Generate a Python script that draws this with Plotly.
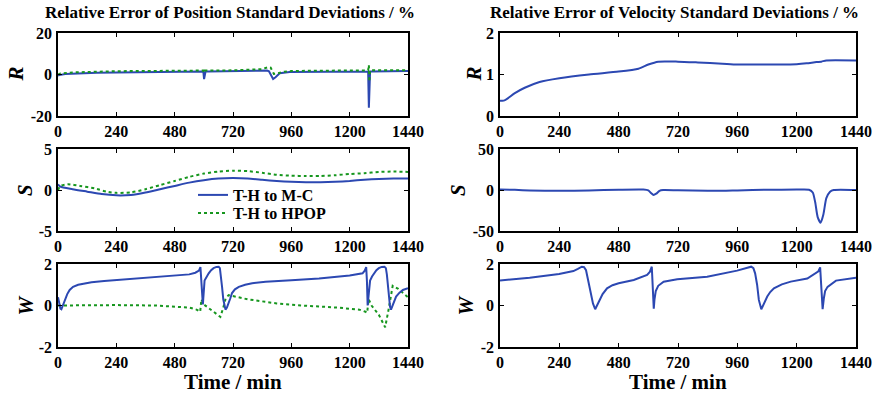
import plotly.graph_objects as go

# ---------------- data ----------------
# Position R
pos_R_mc_t = [0, 5, 30, 80, 160, 240, 360, 480, 560, 598, 601, 604, 607, 620, 720, 840, 860, 868, 878, 885, 895, 912, 953, 1080, 1200, 1276, 1279, 1281, 1284, 1290, 1320, 1440]
pos_R_mc_v = [-0.5, -0.3, 0.2, 0.5, 0.8, 1.0, 1.2, 1.3, 1.4, 1.4, -2.2, -1.0, 1.4, 1.4, 1.5, 1.6, 1.9, 1.5, -1.0, -2.2, -1.3, 0.6, 1.2, 1.3, 1.4, 1.5, -16.0, -8.0, 1.5, 1.5, 1.6, 1.7]
pos_R_hp_t = [0, 10, 60, 240, 480, 598, 601, 604, 620, 720, 840, 866, 875, 888, 900, 930, 960, 1200, 1276, 1279, 1281, 1284, 1320, 1440]
pos_R_hp_v = [0.0, 0.5, 1.0, 1.6, 1.8, 1.9, 0.8, 1.9, 1.9, 2.0, 2.6, 3.6, 3.3, 0.3, 0.5, 1.3, 1.7, 2.0, 2.0, 4.6, -3.5, 2.0, 2.1, 2.1]

# Position S
pos_S_mc_t = [0, 10, 60, 120, 180, 240, 300, 360, 420, 480, 540, 600, 660, 720, 780, 840, 900, 960, 1020, 1080, 1140, 1200, 1260, 1320, 1380, 1440]
pos_S_mc_v = [0.7, 0.4, 0.1, -0.2, -0.5, -0.65, -0.6, -0.3, 0.1, 0.5, 0.9, 1.2, 1.4, 1.45, 1.4, 1.25, 1.1, 1.0, 0.95, 0.95, 1.0, 1.1, 1.25, 1.35, 1.4, 1.4]
pos_S_hp_t = [0, 10, 40, 90, 150, 200, 240, 300, 360, 420, 480, 540, 600, 660, 720, 780, 840, 900, 960, 1020, 1080, 1140, 1200, 1260, 1320, 1380, 1440]
pos_S_hp_v = [0.0, 0.5, 0.7, 0.5, 0.2, -0.2, -0.35, -0.3, 0.1, 0.6, 1.1, 1.6, 2.0, 2.25, 2.35, 2.3, 2.1, 1.85, 1.75, 1.7, 1.7, 1.8, 1.95, 2.05, 2.2, 2.25, 2.2]

# Position W
pos_W_mc_t = [0, 4, 10, 14, 20, 27, 38, 48, 62, 83, 110, 138, 190, 234, 300, 360, 420, 482, 540, 565, 580, 586, 589, 592, 596, 603, 612, 620, 630, 640, 652, 661, 666, 670, 675, 680, 685, 689, 695, 702, 709, 716, 728, 744, 770, 799, 854, 960, 1074, 1200, 1253, 1262, 1268, 1271, 1274, 1278, 1284, 1292, 1300, 1310, 1320, 1332, 1343, 1349, 1353, 1357, 1361, 1366, 1370, 1380, 1391, 1405, 1419, 1440]
pos_W_mc_v = [0.4, 0.1, -0.15, -0.18, 0.0, 0.27, 0.55, 0.75, 0.9, 1.0, 1.07, 1.12, 1.18, 1.22, 1.27, 1.32, 1.37, 1.42, 1.5, 1.58, 1.68, 1.85, 1.2, 0.3, 0.05, 1.2, 1.4, 1.55, 1.7, 1.8, 1.86, 1.87, 1.8, 1.5, 0.9, 0.3, -0.05, -0.2, -0.1, 0.1, 0.35, 0.6, 0.78, 0.9, 1.0, 1.07, 1.15, 1.22, 1.3, 1.45, 1.55, 1.68, 1.85, 1.2, 0.0, 0.5, 1.2, 1.4, 1.55, 1.7, 1.8, 1.86, 1.87, 1.8, 1.5, 0.9, 0.3, -0.05, -0.2, 0.1, 0.43, 0.62, 0.75, 0.83]
pos_W_hp_t = [0, 100, 240, 400, 500, 540, 570, 585, 590, 600, 640, 668, 680, 690, 702, 740, 780, 900, 1000, 1150, 1240, 1265, 1272, 1278, 1290, 1320, 1346, 1360, 1377, 1400, 1440]
pos_W_hp_v = [0.0, 0.02, 0.02, 0.0, -0.05, -0.1, -0.2, -0.3, 0.3, 0.05, -0.3, -0.55, -0.1, 0.35, 0.5, 0.4, 0.3, 0.1, 0.0, -0.1, -0.2, -0.3, -0.35, 0.3, 0.0, -0.45, -1.05, -0.2, 0.95, 0.8, 0.4]

# Velocity R
vel_R_t = [0, 15, 30, 60, 100, 160, 240, 360, 480, 560, 600, 640, 720, 800, 900, 960, 1080, 1200, 1240, 1280, 1300, 1320, 1440]
vel_R_v = [0.37, 0.37, 0.42, 0.55, 0.68, 0.82, 0.91, 1.0, 1.07, 1.14, 1.24, 1.31, 1.31, 1.29, 1.26, 1.24, 1.24, 1.25, 1.27, 1.30, 1.31, 1.34, 1.34]

# Velocity S
vel_S_t = [0, 60, 120, 240, 360, 480, 580, 600, 612, 621, 632, 645, 660, 720, 840, 900, 960, 1080, 1200, 1250, 1265, 1275, 1285, 1297, 1308, 1320, 1335, 1350, 1440]
vel_S_v = [0.5, 0.2, -0.5, -1.0, -0.5, 0.3, 0.5, -0.5, -4.0, -6.0, -4.5, -1.0, 0.0, -0.3, -0.8, -1.0, -0.5, 0.3, 0.5, 0.3, -3.0, -15.0, -33.0, -40.0, -30.0, -10.0, -2.0, 0.0, 0.0]

# Velocity W
vel_W_t = [0, 120, 239, 270, 297, 315, 331, 340, 348, 355, 362, 370, 376, 385, 395, 403, 415, 433, 455, 480, 541, 595, 606, 614, 618, 622, 625, 630, 640, 662, 717, 838, 959, 985, 1000, 1016, 1025, 1032, 1040, 1047, 1057, 1067, 1081, 1093, 1108, 1140, 1176, 1243, 1277, 1288, 1295, 1300, 1305, 1310, 1315, 1325, 1359, 1440]
vel_W_v = [1.2, 1.34, 1.52, 1.58, 1.66, 1.76, 1.87, 1.85, 1.7, 1.3, 0.9, 0.4, 0.1, -0.18, 0.05, 0.27, 0.55, 0.83, 0.98, 1.07, 1.23, 1.47, 1.62, 1.87, 0.8, -0.15, 0.3, 0.7, 0.95, 1.15, 1.26, 1.39, 1.68, 1.78, 1.83, 1.87, 1.8, 1.55, 1.0, 0.27, -0.18, 0.1, 0.43, 0.65, 0.83, 1.02, 1.15, 1.3, 1.55, 1.65, 1.84, 0.6, -0.18, 0.35, 0.7, 0.9, 1.2, 1.34]

x_ticks = [0, 240, 480, 720, 960, 1200, 1440]
pos_titles = ["R", "S", "W"]
legend_names = ["T-H to M-C", "T-H to HPOP"]
title_left = "Relative Error of Position Standard Deviations / %"
title_right = "Relative Error of Velocity Standard Deviations / %"
xlabel = "Time / min"

y_ranges = [[-20, 20], [-5, 5], [-2, 2], [0, 2], [-50, 50], [-2, 2]]
y_ticks = [[-20, 0, 20], [-5, 0, 5], [-2, 0, 2], [0, 1, 2], [-50, 0, 50], [-2, 0, 2]]

# ---------------- styling ----------------
BLUE = "rgb(44,72,178)"
GREEN = "rgb(22,150,30)"
FONT = "Liberation Serif"
W, H = 877, 401

xdom = [[58 / W, 408 / W], [500 / W, 856 / W]]
rows_px = [(33, 116), (149, 231), (264, 347)]
ydom = [[1 - b / H, 1 - t / H] for t, b in rows_px]
ylab_x = [[15, 25, 25], [473, 458, 465]]

fig = go.Figure()

def add(t, v, ax, color, dash, name=None, legend=None, shape="linear"):
    fig.add_trace(go.Scatter(x=t, y=v, mode="lines", xaxis="x" + ax, yaxis="y" + ax,
                             line=dict(color=color, width=2, dash=dash, shape=shape,
                                       smoothing=0.6 if shape == "spline" else None),
                             name=name, showlegend=legend is not None,
                             legend=legend if legend else "legend"))

add(pos_R_mc_t, pos_R_mc_v, "", BLUE, "solid")
add(pos_R_hp_t, pos_R_hp_v, "", GREEN, "dot")
add(pos_S_mc_t, pos_S_mc_v, "2", BLUE, "solid", legend_names[0], "legend", "spline")
add(pos_S_hp_t, pos_S_hp_v, "2", GREEN, "dot", legend_names[1], "legend2", "spline")
add(pos_W_hp_t, pos_W_hp_v, "3", GREEN, "dot")
add(pos_W_mc_t, pos_W_mc_v, "3", BLUE, "solid")
add(vel_R_t, vel_R_v, "4", BLUE, "solid", shape="spline")
add(vel_S_t, vel_S_v, "5", BLUE, "solid", shape="spline")
add(vel_W_t, vel_W_v, "6", BLUE, "solid")

tickfont = dict(family=FONT, size=16, color="black", weight="bold")
legfont = dict(family=FONT, size=16, color="black", weight="bold")
layout = dict(width=W, height=H, margin=dict(l=0, r=0, t=0, b=0),
              paper_bgcolor="white", plot_bgcolor="white",
              legend=dict(x=193 / W, y=1 - 195 / H, xanchor="left", yanchor="middle",
                          bgcolor="rgba(0,0,0,0)", itemwidth=30, font=legfont),
              legend2=dict(x=193 / W, y=1 - 213 / H, xanchor="left", yanchor="middle",
                           bgcolor="rgba(0,0,0,0)", itemwidth=30, font=legfont))

def fmt(v):
    return str(v).replace("\u2212", "-")

for i in range(6):
    col = i // 3
    row = i % 3
    suffix = "" if i == 0 else str(i + 1)
    layout["xaxis" + suffix] = dict(domain=xdom[col], range=[0, 1440], tickvals=x_ticks,
                                    ticktext=[str(v) for v in x_ticks],
                                    anchor="y" + suffix, showgrid=False, zeroline=False, automargin=False,
                                    showline=True, linecolor="black", linewidth=1.5, mirror="ticks",
                                    ticks="inside", ticklen=4, tickcolor="black", tickwidth=1,
                                    tickfont=tickfont, ticklabelstandoff=0)
    layout["yaxis" + suffix] = dict(domain=ydom[row], range=y_ranges[i], tickvals=y_ticks[i],
                                    ticktext=[fmt(v) for v in y_ticks[i]],
                                    anchor="x" + suffix, showgrid=False, zeroline=False, automargin=False,
                                    showline=True, linecolor="black", linewidth=1.5, mirror="ticks",
                                    ticks="inside", ticklen=4, tickcolor="black", tickwidth=1,
                                    tickfont=tickfont, ticklabelstandoff=1)

fig.update_layout(**layout)

ann = []
ann.append(dict(x=230 / W, y=1 - 12 / H, text=title_left, showarrow=False, xref="paper", yref="paper",
                xanchor="center", yanchor="middle", font=dict(family=FONT, size=17, color="black", weight="bold")))
ann.append(dict(x=674 / W, y=1 - 12 / H, text=title_right, showarrow=False, xref="paper", yref="paper",
                xanchor="center", yanchor="middle", font=dict(family=FONT, size=17, color="black", weight="bold")))
for col, xc in enumerate([233, 678]):
    ann.append(dict(x=xc / W, y=1 - 382 / H, text=xlabel, showarrow=False, xref="paper", yref="paper",
                    xanchor="center", yanchor="middle", font=dict(family=FONT, size=21, color="black", weight="bold")))
for col in range(2):
    for row, (t, b) in enumerate(rows_px):
        ann.append(dict(x=ylab_x[col][row] / W, y=1 - (t + b) / 2 / H, text="<i>" + pos_titles[row] + "</i>",
                        showarrow=False, xref="paper", yref="paper", textangle=-90,
                        xanchor="center", yanchor="middle",
                        font=dict(family=FONT, size=21, color="black", weight="bold")))
fig.update_layout(annotations=ann)

fig.write_html("out.html", config={"displayModeBar": False},
               post_script="document.body.style.margin='0px';document.body.style.overflow='hidden';")
